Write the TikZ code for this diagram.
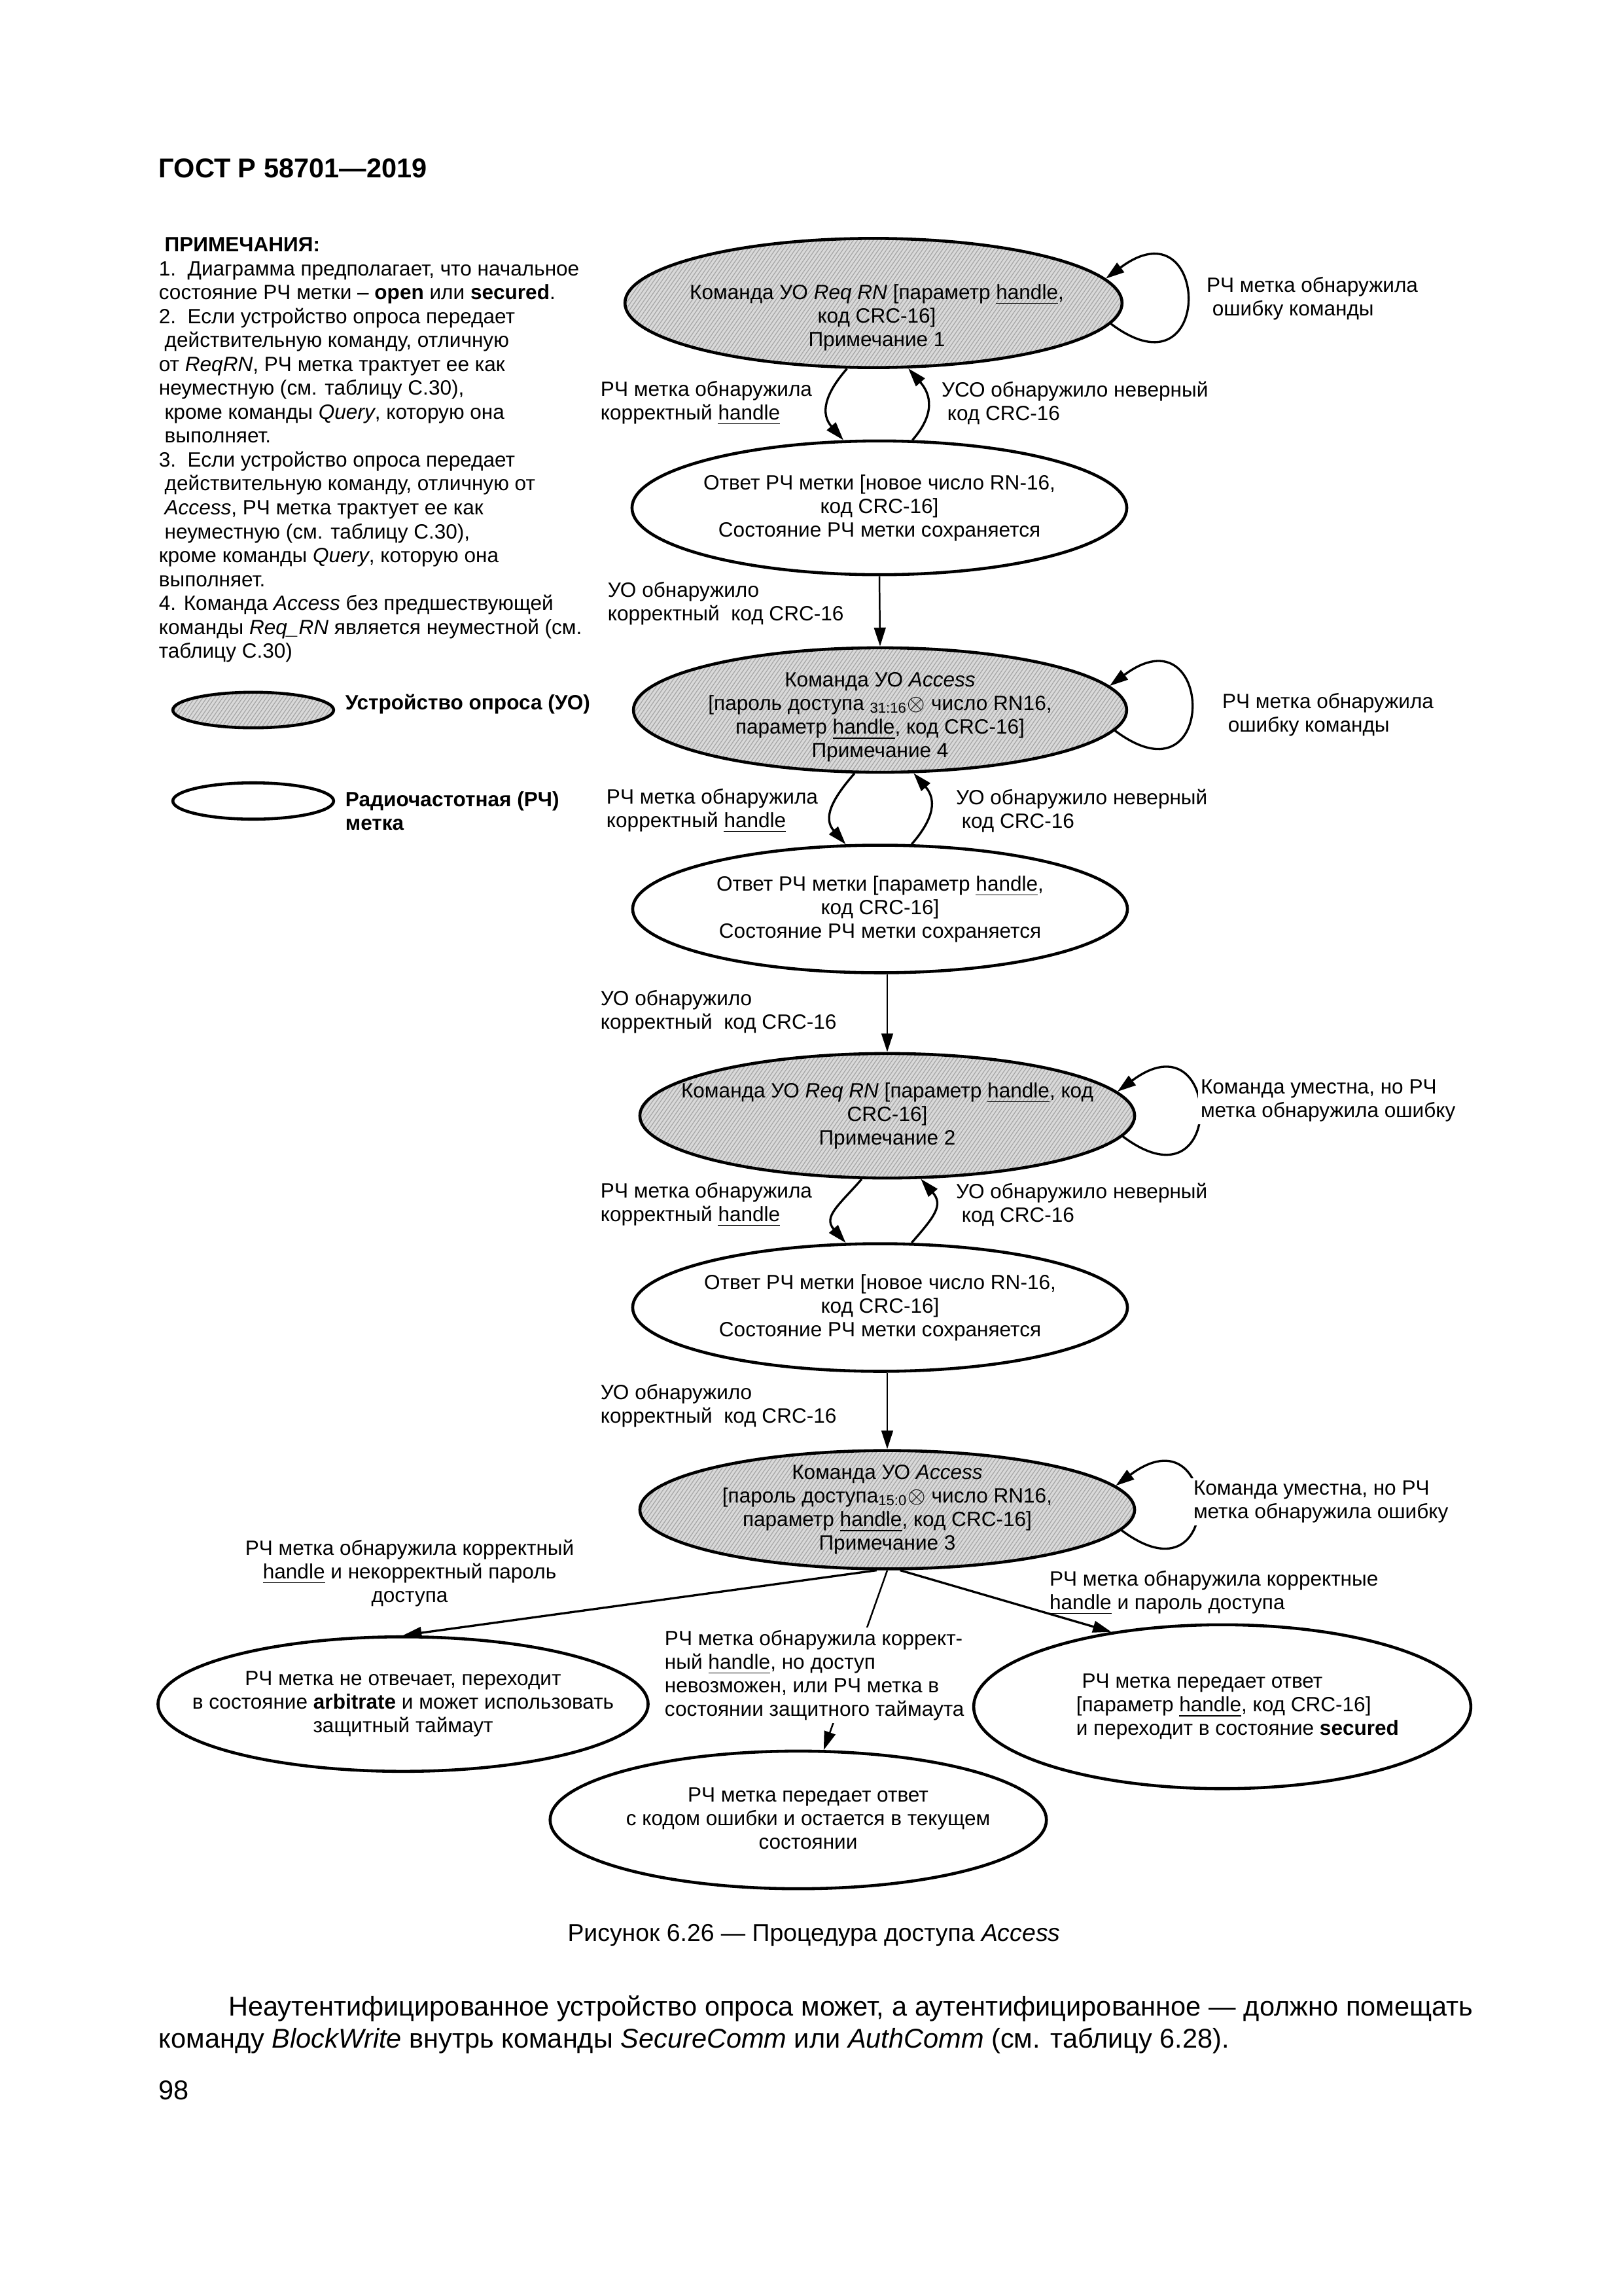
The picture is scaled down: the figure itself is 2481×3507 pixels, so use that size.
\documentclass[tikz,border=0pt]{standalone}
\usepackage{fontspec}
\setmainfont{Liberation Sans}
\usetikzlibrary{arrows.meta,shapes.geometric,patterns.meta}

\newcommand{\ots}{\hspace*{0.28em}}
\newcommand{\melko}{\fontsize{7.6}{8.64}\selectfont}
\tikzset{
  uo/.style={ellipse, draw=black, line width=1.1pt, inner sep=0pt,
    preaction={fill=black!15},
    pattern={Lines[angle=55, distance=1.2pt, line width=0.3pt]}, pattern color=black!35},
  metka/.style={ellipse, draw=black, line width=1.1pt, inner sep=0pt, fill=white},
  tekst/.style={align=center, font=\melko, inner sep=0pt},
  podpis/.style={anchor=west, align=left, font=\melko, inner sep=1pt},
  strelka/.style={-{Triangle[length=2.4mm, width=1.5mm]}, line width=0.8pt},
  tonkaya/.style={line width=0.6pt},
}
% petlya: the tag stays in the same state
\newcommand{\petlya}[1]{%
  \draw[strelka] (#1.-5) .. controls +(160,120) and +(160,-120) .. (#1.6);
}
% para: two arcs between a command and the reply
\newcommand{\para}[2]{%
  \draw[strelka] (#1.-112) .. controls +(-35,40) and +(-35,-40) .. (#2.118);
  \draw[strelka] (#2.64) .. controls +(35,-40) and +(35,40) .. (#1.-62);
}

\begin{document}
\begin{tikzpicture}[x=0.084643mm, y=-0.084643mm]
  \path[use as bounding box, fill=white] (0,0) rectangle (2481,3507);

  % ---------------- page head ----------------
  \node[anchor=west, inner sep=0pt, font=\bfseries\fontsize{10}{12}\selectfont] (zag) at (242,257) {ГОСТ Р 58701—2019};

  % ---------------- notes and legend ----------------
  \node[anchor=north west, align=left, inner sep=0pt, font=\fontsize{7.6}{8.8}\selectfont] (prim) at (242,362) {%
    \ots\textbf{ПРИМЕЧАНИЯ:}\\
    1.\ \ Диаграмма предполагает, что начальное\\
    состояние РЧ метки – \textbf{open} или \textbf{secured}.\\
    2.\ \ Если устройство опроса передает\\
    \ots действительную команду, отличную\\
    от \textit{ReqRN}, РЧ метка трактует ее как\\
    неуместную (см. таблицу С.30),\\
    \ots кроме команды \textit{Query}, которую она\\
    \ots выполняет.\\
    3.\ \ Если устройство опроса передает\\
    \ots действительную команду, отличную от\\
    \ots\textit{Access}, РЧ метка трактует ее как\\
    \ots неуместную (см. таблицу С.30),\\
    кроме команды \textit{Query}, которую она\\
    выполняет.\\
    4. Команда \textit{Access} без предшествующей\\
    команды \textit{Req\_RN} является неуместной (см.\\
    таблицу С.30)};

  \node[uo, minimum width=20.8mm, minimum height=4.6mm] (LU) at (387,1085) {};
  \node[podpis, font=\melko\bfseries] (LUt) at (523,1076) {Устройство опроса (УО)};
  \node[metka, minimum width=20.8mm, minimum height=4.7mm] (LM) at (387,1224) {};
  \node[podpis, font=\melko\bfseries] (LMt) at (523,1239) {Радиочастотная (РЧ)\\метка};

  % ---------------- states ----------------
  \node[uo, minimum width=64.3mm, minimum height=16.7mm] (E1) at (1335,463) {};
  \node[tekst] (T1) at (1340,485) {Команда УО \textit{Req RN} [параметр \underline{handle},\\код CRC-16]\\Примечание 1};
  \node[metka, minimum width=64.0mm, minimum height=17.3mm] (E2) at (1344,776) {};
  \node[tekst] (T2) at (E2) {Ответ РЧ метки [новое число RN-16,\\код CRC-16]\\Состояние РЧ метки сохраняется};
  \node[uo, minimum width=63.8mm, minimum height=16.1mm] (E3) at (1345,1085) {};
  \node[tekst] (T3) at (1345,1096) {Команда УО \textit{Access}\\{}[пароль доступа \textsubscript{31:16}$\otimes$ число RN16,\\параметр \underline{handle}, код CRC-16]\\Примечание 4};
  \node[metka, minimum width=64.0mm, minimum height=16.5mm] (E4) at (1345,1389) {};
  \node[tekst] (T4) at (E4) {Ответ РЧ метки [параметр \underline{handle},\\код CRC-16]\\Состояние РЧ метки сохраняется};
  \node[uo, minimum width=64.0mm, minimum height=16.1mm] (E5) at (1356,1705) {};
  \node[tekst] (T5) at (E5) {Команда УО \textit{Req RN} [параметр \underline{handle}, код\\CRC-16]\\Примечание 2};
  \node[metka, minimum width=64.0mm, minimum height=16.5mm] (E6) at (1345,1998) {};
  \node[tekst] (T6) at (E6) {Ответ РЧ метки [новое число RN-16,\\код CRC-16]\\Состояние РЧ метки сохраняется};
  \node[uo, minimum width=64.0mm, minimum height=15.3mm] (E7) at (1356,2307) {};
  \node[tekst] (T7) at (E7) {Команда УО \textit{Access}\\{}[пароль доступа\textsubscript{15:0}$\otimes$ число RN16,\\параметр \underline{handle}, код CRC-16]\\Примечание 3};
  \node[metka, minimum width=63.4mm, minimum height=17.4mm] (E8) at (616,2604) {};
  \node[tekst] (T8) at (E8) {РЧ метка не отвечает, переходит\\в состояние \textbf{arbitrate} и может использовать\\защитный таймаут};
  \node[metka, minimum width=64.2mm, minimum height=17.8mm] (E9) at (1220,2781) {};
  \node[tekst] (T9) at (1235,2779) {РЧ метка передает ответ\\с кодом ошибки и остается в текущем\\состоянии};
  \node[metka, minimum width=64.3mm, minimum height=21.2mm] (E10) at (1868,2608) {};
  \node[tekst, anchor=west, align=left] (T10) at (1644,2608) {\ots РЧ метка передает ответ\\{}[параметр \underline{handle}, код CRC-16]\\и переходит в состояние \textbf{secured}};

  % ---------------- transitions ----------------
  \petlya{E1}
  \para{E1}{E2}
  \draw[strelka, tonkaya] (E2.south) -- (E3.north);
  \petlya{E3}
  \para{E3}{E4}
  \draw[strelka, tonkaya] (E5.north |- E4.south) -- (E5.north);
  \petlya{E5}
  \para{E5}{E6}
  \draw[strelka, tonkaya] (E7.north |- E6.south) -- (E7.north);
  \petlya{E7}
  \draw[strelka] (E7.-100) -- (E8.north);
  \draw[strelka, tonkaya] (E7.south) -- (E9.70);
  \draw[strelka] (E7.-78) -- (E10.146);

  % ---------------- labels ----------------
  \node[podpis] (P1) at (1839,456) {РЧ метка обнаружила\\\ots ошибку команды};
  \node[podpis] (P1a) at (913,616) {РЧ метка обнаружила\\корректный \underline{handle}};
  \node[podpis] (P1b) at (1434,616) {УСО обнаружило неверный\\\ots код CRC-16};
  \node[podpis] (P2) at (924,922) {УО обнаружило\\корректный\ \ код CRC-16};
  \node[podpis] (P3) at (1863,1092) {РЧ метка обнаружила\\\ots ошибку команды};
  \node[podpis] (P3a) at (922,1239) {РЧ метка обнаружила\\корректный \underline{handle}};
  \node[podpis] (P3b) at (1456,1239) {УО обнаружило неверный\\\ots код CRC-16};
  \node[podpis] (P4) at (913,1546) {УО обнаружило\\корректный\ \ код CRC-16};
  \node[podpis, fill=white] (P5) at (1830,1682) {Команда уместна, но РЧ\\метка обнаружила ошибку};
  \node[podpis] (P5a) at (913,1841) {РЧ метка обнаружила\\корректный \underline{handle}};
  \node[podpis] (P5b) at (1456,1841) {УО обнаружило неверный\\\ots код CRC-16};
  \node[podpis] (P6) at (913,2148) {УО обнаружило\\корректный\ \ код CRC-16};
  \node[podpis, fill=white] (P7) at (1819,2295) {Команда уместна, но РЧ\\метка обнаружила ошибку};
  \node[podpis, anchor=center, align=center] (P8) at (626,2404) {РЧ метка обнаружила корректный\\\underline{handle} и некорректный пароль\\доступа};
  \node[podpis] (P10) at (1599,2434) {РЧ метка обнаружила корректные\\\underline{handle} и пароль доступа};
  \node[podpis, fill=white] (P9) at (1011,2560) {РЧ метка обнаружила коррект-\\ный \underline{handle}, но доступ\\невозможен, или РЧ метка в\\состоянии защитного таймаута};

  % ---------------- caption and text ----------------
  \node[inner sep=0pt, font=\fontsize{9}{11}\selectfont] (ris) at (1244,2957) {Рисунок 6.26 — Процедура доступа \textit{Access}};
  \node[anchor=west, inner sep=0pt, text width=170mm, align=justify, font=\fontsize{10}{11.8}\selectfont] (abz) at (242,3094)
    {\hspace*{9mm}Неаутентифицированное устройство опроса может, а аутентифицированное — должно помещать\linebreak
     команду \textit{BlockWrite} внутрь команды \textit{SecureComm} или \textit{AuthComm} (см. таблицу 6.28).};
  \node[anchor=west, inner sep=0pt, font=\fontsize{10}{12}\selectfont] (str) at (242,3194) {98};
\end{tikzpicture}
\end{document}
